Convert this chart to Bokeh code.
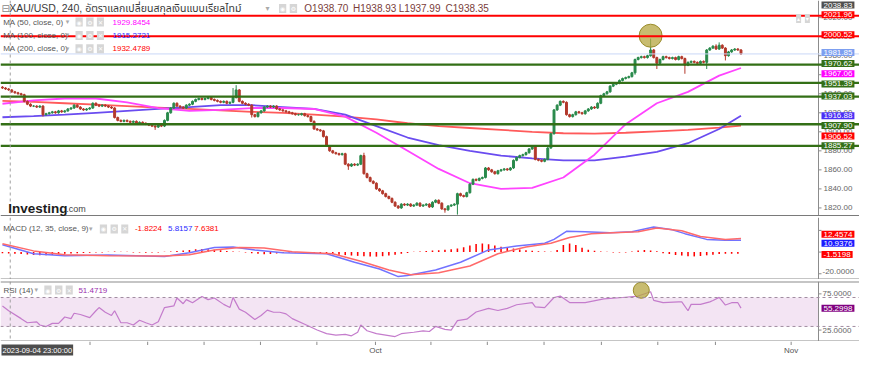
from bokeh.plotting import figure
from bokeh.models import Range1d, Label, Span, BoxAnnotation
from bokeh.layouts import column
from bokeh.embed import file_html
from bokeh.resources import INLINE

# ---------------- data ----------------
closes = [
    1946, 1945, 1944, 1942, 1941, 1940, 1939, 1932, 1929, 1927,
    1927, 1926, 1927, 1918, 1919, 1920, 1921, 1920, 1922, 1921,
    1922, 1924, 1925, 1928, 1926, 1924, 1923, 1924, 1925, 1930,
    1928, 1927, 1928, 1927, 1926, 1925, 1915, 1912, 1911, 1912,
    1911, 1910, 1911, 1909, 1910, 1909, 1908, 1907, 1906, 1905,
    1908, 1906, 1912, 1920, 1925, 1930, 1927, 1926, 1925, 1928,
    1929, 1932, 1934, 1935, 1934, 1935, 1936, 1934, 1933, 1932,
    1931, 1932, 1930, 1931, 1936, 1944, 1932, 1930, 1929, 1928,
    1918, 1916, 1920, 1922, 1926, 1927, 1926, 1927, 1924, 1923,
    1922, 1921, 1920, 1919, 1918, 1918, 1919, 1917, 1916, 1911,
    1903, 1902, 1901, 1895, 1885, 1880, 1878, 1877, 1876, 1877,
    1866, 1864, 1866, 1865, 1866, 1875, 1856, 1852, 1848, 1846,
    1840, 1838, 1835, 1832, 1830, 1826, 1822, 1820, 1824, 1823,
    1824, 1822, 1823, 1825, 1822, 1823, 1824, 1821, 1826, 1828,
    1825, 1819, 1818, 1822, 1823, 1824, 1835, 1833, 1832, 1836,
    1845, 1850, 1849, 1851, 1852, 1862, 1860, 1858, 1856, 1859,
    1860, 1861, 1860, 1862, 1870, 1873, 1875, 1876, 1878, 1882,
    1884, 1871, 1870, 1869, 1871, 1883, 1898, 1923, 1928, 1932,
    1931, 1918, 1916, 1918, 1921, 1920, 1919, 1922, 1924, 1926,
    1925, 1930, 1938, 1940, 1942, 1948, 1950, 1951, 1954, 1956,
    1957, 1958, 1962, 1976, 1978, 1979, 1978, 1980, 1986, 1978,
    1972, 1976, 1979, 1978, 1977, 1978, 1976, 1979, 1977, 1970,
    1973, 1974, 1973, 1972, 1974, 1973, 1986, 1988, 1990, 1987,
    1991, 1988, 1980, 1984, 1986, 1987, 1986, 1981.85,
]
first_open = 1947
wick_high = {74: 1946, 75: 1949, 116: 1878, 146: 1836, 177: 1924,
             208: 1998, 229: 1992, 230: 1994}
wick_low = {13: 1916, 49: 1902, 80: 1915, 111: 1860, 142: 1815, 146: 1813,
            203: 1960, 210: 1966, 219: 1961, 226: 1966, 232: 1975}

ma_idx = [0, 10, 20, 30, 40, 50, 60, 70, 80, 90, 100, 110, 120, 130, 140,
          150, 160, 170, 180, 190, 200, 210, 220, 230, 237]
ma50 = [1929.5, 1933, 1935, 1935, 1931, 1925, 1922, 1923, 1925, 1925, 1924,
        1916, 1899, 1880, 1861, 1846, 1840, 1841, 1852, 1876, 1908, 1930,
        1942, 1959, 1967.06]
ma100 = [1915.3, 1916.5, 1918, 1920, 1922, 1924, 1926, 1928, 1928, 1926,
         1924, 1918, 1906, 1894, 1886, 1880, 1875, 1872, 1870, 1870, 1874,
         1879, 1888, 1903, 1916.88]
ma200 = [1932.5, 1931.5, 1930, 1928.5, 1927, 1925.5, 1924, 1922.5, 1921,
         1920, 1918, 1916, 1913, 1909, 1906, 1904, 1902, 1900, 1898.5, 1898,
         1899, 1900.5, 1902, 1904.5, 1906.52]

macd_idx = [0, 10, 20, 34, 52, 60, 68, 74, 81, 90, 104, 113, 121, 127, 130,
            139, 147, 156, 165, 174, 177, 181, 187, 195, 202, 209, 215, 219,
            226, 232, 237]
macd_vals = [6.7, -1.5, -3.3, -2.8, -4.1, -0.6, 4.2, 4.7, 2.0, -0.6, -1.5,
             -9.4, -15.6, -22.6, -21.7, -16.5, -9.4, 2.0, 5.5, 8.2, 11.7,
             19.2, 18.8, 17.9, 18.8, 23.2, 20.5, 17.0, 11.7, 10.8, 10.94]
signal_idx = [0, 10, 20, 34, 52, 60, 68, 76, 84, 93, 106, 115, 124, 131,
              140, 150, 159, 168, 176, 182, 189, 196, 204, 210, 218, 224,
              232, 237]
signal_vals = [7.7, 1.1, -2.4, -3.3, -3.7, -2.4, 2.0, 4.2, 3.8, 0.3, -1.5,
               -8.5, -16.5, -20.9, -19.1, -12.9, -1.5, 4.7, 8.2, 13.5, 17.0,
               17.9, 18.8, 22.3, 19.6, 14.3, 11.7, 12.46]
hist_idx = list(range(0, 237, 2))
hist_vals = [
    -1.0, -1.2, -1.5, -1.8, -2.2, -2.8, -3.0, -3.0, -2.6, -2.0,
    -1.5, -1.2, -1.0, -0.8, -0.6, -0.4, -0.3, 0.3, 0.5, 0.4,
    0.3, -0.3, -0.5, -0.6, -0.5, -0.4, 0.3, 0.6, 1.0, 1.5,
    2.0, 2.5, 2.8, 2.6, 2.2, 1.6, 1.0, 0.5, 0.3, -0.3,
    -1.0, -1.6, -2.0, -1.8, -1.4, -0.8, -0.5, -0.4, -0.5, -0.8,
    -1.0, -1.3, -1.7, -2.0, -2.4, -2.8, -3.2, -3.5, -3.8, -4.0,
    -4.2, -3.8, -3.2, -2.5, -1.6, -0.8, 0.2, 0.6, 1.0, 1.4,
    1.8, 2.2, 2.6, 3.2, 4.5, 6.0, 7.5, 8.0, 7.2, 6.0,
    5.0, 4.0, 3.2, 2.4, 1.8, 1.2, 0.8, 0.5, 0.4, 2.0,
    6.5, 8.0, 6.5, 4.0, 2.2, 1.2, 0.6, 0.3, -0.3, -0.5,
    -0.4, 0.5, 1.5, 2.0, 1.5, 0.8, -1.0, -1.8, -2.6, -3.2,
    -3.8, -4.0, -3.6, -3.0, -2.4, -1.8, -1.5, -1.5, -1.5,
]

rsi_idx = [0, 2, 6, 8, 11, 12, 14, 16, 18, 19, 20, 22, 23, 25, 28, 30, 31,
           33, 35, 36, 38, 40, 42, 44, 46, 48, 50, 52, 55, 56, 58, 59, 61,
           64, 66, 68, 71, 73, 74, 76, 78, 81, 83, 85, 87, 89, 91, 93, 97,
           101, 104, 107, 110, 112, 114, 115, 117, 120, 123, 126, 128, 132,
           135, 137, 139, 142, 144, 146, 149, 152, 156, 159, 162, 165, 170,
           171, 174, 177, 179, 182, 187, 193, 199, 204, 208, 209, 212, 217,
           218, 220, 221, 224, 227, 228, 230, 232, 234, 236, 237]
rsi_vals = [58.3, 51.7, 40.8, 35.1, 36.4, 32, 29.8, 34.2, 34.2, 38.6, 43,
            40.8, 48.2, 46.5, 42.1, 51.7, 56.1, 49.6, 45.2, 51.7, 35.1, 35.1,
            32, 38.6, 35.1, 32, 36.4, 56.1, 58.3, 69.3, 61.4, 67.1, 62.8,
            71.5, 67.1, 69.3, 60.5, 56.1, 70.2, 53.9, 49.6, 39.5, 45.2, 52.6,
            49.6, 49.6, 47.4, 40.8, 33, 25, 20, 18, 19, 17, 22, 32, 24, 20,
            18, 16, 20, 22, 24, 23, 30, 26, 25, 38, 40, 50, 55, 52, 55, 60,
            63, 57, 56, 70, 72, 63, 63, 68, 70, 72, 78, 66, 63, 64, 64, 51.7,
            60.5, 60.5, 64, 65.8, 70.2, 59.6, 62.8, 62.8, 55.3]

red_levels = [2021.96, 2000.52]
green_levels = [1970.62, 1951.39, 1937.03, 1907.90, 1885.27]
last_price = 1981.85
top_price = 2038.83
ma_last = {"ma50": 1967.06, "ma100": 1916.88, "ma200": 1906.52}
macd_last = {"signal": 12.4574, "macd": 10.9376, "hist": -1.5198}
rsi_last = 55.2998
rsi_bands = [30, 70]
price_ticks = [1820, 1840, 1860, 1880, 1900, 1920, 1940, 1960, 1980, 2000, 2020]
macd_ticks = [-20, 0, 20]
macd_tick_labels = ["-20.0000"]
rsi_ticks = [25, 75]
x_ticks = [28.1, 46.6, 64.7, 82.8, 100.9, 119.7, 137.5, 155.6, 173.8, 192.2,
           210.3, 228.8, 253.1]
x_tick_labels = ["", "", "", "", "", "Oct", "", "", "", "", "", "", "Nov"]
crosshair_bar = 2.5
crosshair_text = "2023-09-04 23:00:00"
highlight_main = (208, 2001)
highlight_rsi = (205, 80)

title_text = "XAU/USD, 240, อัตราแลกเปลี่ยนสกุลเงินแบบเรียลไทม์"
ohlc_texts = ["O1938.70", "H1938.93", "L1937.99", "C1938.35"]
ma_rows = [("MA (50, close, 0)", "1929.8454", "#ff00ff"),
           ("MA (100, close, 0)", "1915.2721", "#2a2aff"),
           ("MA (200, close, 0)", "1932.4789", "#ff0000")]
macd_head = "MACD (12, 35, close, 9)"
macd_head_vals = [("-1.8224", "#ff0000"), ("5.8157", "#2a2aff"), ("7.6381", "#ff0000")]
rsi_head = "RSI (14)"
rsi_head_val = "51.4719"

# ---------------- derived candles ----------------
N = len(closes)
idx = list(range(N))
opens = [first_open] + closes[:-1]
highs = [wick_high.get(i, max(o, c) + 1) for i, (o, c) in enumerate(zip(opens, closes))]
lows = [wick_low.get(i, min(o, c) - 1) for i, (o, c) in enumerate(zip(opens, closes))]
UP, DOWN = "#2a8a4c", "#b3392c"
colors = [UP if c >= o else DOWN for o, c in zip(opens, closes)]
tops = [max(o, c) for o, c in zip(opens, closes)]
bots = [min(o, c) for o, c in zip(opens, closes)]

# ---------------- layout ----------------
W = 859
FW = 818                   # width of the chart area; the price scale takes the rest
SX = FW / 840.0            # horizontal scale vs. reference
PXB = FW / 262.5           # pixels per bar
X0 = -0.625
XB = 261.875               # right border of the chart area
XE = X0 + W / PXB
xr = Range1d(X0, XE)
TICK = 3 / PXB
FONT = "Liberation Sans"
ICON = "DejaVu Sans"
GRID = "#8c8c8c"


def make_fig(h, yr, top=0):
    p = figure(width=W, height=h, x_range=xr, y_range=yr, output_backend="svg",
               toolbar_location=None, tools="", y_axis_location=None,
               x_axis_location=None, min_border_left=0, min_border_right=0,
               min_border_top=top, min_border_bottom=0)
    p.grid.visible = False
    p.outline_line_color = None
    p.background_fill_color = "white"
    p.border_fill_color = "white"
    p.add_layout(Span(location=XB, dimension="height", line_color=GRID, line_width=1))
    return p


def txt(p, ax, ay, dx, dy, text, size, color, font=FONT, bold=False,
        baseline="middle", bg=None, pad=0, align="left"):
    p.add_layout(Label(x=ax, y=ay, x_offset=dx, y_offset=dy, text=text,
                       text_font_size=f"{size}px", text_color=color,
                       text_font=font, text_font_style="bold" if bold else "normal",
                       text_align=align, text_baseline=baseline,
                       background_fill_color=bg, padding=pad))


def tag(p, y, text, bg, dy=0, color="white", baseline="middle"):
    txt(p, XB, y, 3, dy, text, 8, color, bg=bg, pad=(2, 1), baseline=baseline)


def icons(p, ax, ay, xs, dy, chars=("◉", "⚙", "✕")):
    for x, ch in zip(xs, chars):
        txt(p, ax, ay, x * SX, dy, ch, 6, "white", font=ICON, bg="#d6d6d6", pad=1)


def yticks(p, ticks):
    p.segment(x0=[XB] * len(ticks), y0=ticks, x1=[XB + TICK] * len(ticks), y1=ticks,
              line_color=GRID, line_width=1)


# ---- main price panel ----
YB, YT = 1811, 2038
p1 = make_fig(216, Range1d(YB, YT))
MY = 216 / 227.0
yticks(p1, price_ticks)

p1.line(ma_idx, ma200, line_color="#ff5a5a", line_width=1.8)
p1.line(ma_idx, ma100, line_color="#6a4cf0", line_width=1.8)
p1.line(ma_idx, ma50, line_color="#ff44ff", line_width=1.8)
p1.segment(x0=idx, y0=lows, x1=idx, y1=highs, line_color=colors, line_width=1)
p1.vbar(x=idx, width=0.62, top=tops, bottom=bots, fill_color=colors, line_color=colors, line_width=1)

p1.add_layout(Span(location=last_price, dimension="width", line_color="#c9d7f7", line_width=1))
for v in red_levels:
    p1.add_layout(Span(location=v, dimension="width", line_color="#ff0000", line_width=2))
for v in green_levels:
    p1.add_layout(Span(location=v, dimension="width", line_color="#336f16", line_width=2.4))
p1.add_layout(Span(location=crosshair_bar, dimension="height", line_color="#a0a0a0",
                   line_width=1, line_dash="3 3"))
p1.add_layout(Span(location=YB, dimension="width", line_color="#7a7a7a", line_width=3))
p1.scatter([highlight_main[0]], [highlight_main[1]], size=23, fill_color="#b5a640",
           fill_alpha=0.75, line_color="#9a8c2a", line_width=1)

# header rows
txt(p1, X0, YT, 1 * SX, -8.3 * MY, "⊟", 10, "#888888", font=ICON)
txt(p1, X0, YT, 9 * SX, -8.3 * MY, title_text, 10.5, "#3a3a3a",
    font="Liberation Sans, Noto Sans Thai, Tahoma, sans-serif")
txt(p1, X0, YT, 272 * SX, -8.3 * MY, "▾", 8, "#aaaaaa", font=ICON)
icons(p1, X0, YT, [286, 297], -8.3 * MY)
for t, x in zip(ohlc_texts, [312, 362, 409, 457]):
    txt(p1, X0, YT, x * SX, -8.3 * MY, t, 10, "#7a3d3a")
for r, (name, val, c) in enumerate(ma_rows):
    yy = -(22.7 + 14.0 * r) * MY
    txt(p1, X0, YT, 2.7 * SX, yy, name, 8, "#555555")
    txt(p1, X0, YT, 67 * SX, yy, "▾", 7, "#aaaaaa", font=ICON)
    icons(p1, X0, YT, [77, 88, 99], yy)
    txt(p1, X0, YT, 115 * SX, yy, val, 8, c)
# small scroll icons at the top right of the chart area
icons(p1, XB, YT, [-23, -14], -19 * MY, chars=("▴", "▾"))

txt(p1, X0, YB, 8 * SX, 8 * MY, "Investing", 13.5, "#1c1c1c", bold=True, baseline="alphabetic")
txt(p1, X0, YB, 67.5 * SX, 8 * MY, ".com", 9, "#444444", baseline="alphabetic")

# right price scale labels
for v in price_ticks:
    txt(p1, XB, v, 5, 0, f"{v:.2f}", 8, "#666666")
tag(p1, YT, f"{top_price:.2f}", "#505050", dy=-1, baseline="top")
for v in red_levels:
    tag(p1, v, f"{v:.2f}", "#ff0000", dy=1 if v > 2010 else 1.5)
tag(p1, last_price, f"{last_price:.2f}", "#7d9ff0", dy=1.5)
green_dy = {1970.62: 1, 1951.39: -1, 1937.03: 0.5, 1907.90: -1.2, 1885.27: 0}
for v in green_levels:
    tag(p1, v, f"{v:.2f}", "#336f16", dy=green_dy[v])
tag(p1, ma_last["ma50"], f"{ma_last['ma50']:.2f}", "#ff00ff", dy=-5.8)
tag(p1, ma_last["ma100"], f"{ma_last['ma100']:.2f}", "#4b30f5")
tag(p1, ma_last["ma200"], f"{ma_last['ma200']:.2f}", "#ff0000", dy=-10.5)

# ---- MACD panel ----
MB, MT = -25.3, 31.9
p2 = make_fig(63, Range1d(MB, MT), top=1)
yticks(p2, macd_ticks)
p2.vbar(x=hist_idx, top=hist_vals, bottom=0, width=0.5, fill_color="#ff0000", line_color=None)
p2.line(macd_idx, macd_vals, line_color="#7272ff", line_width=1.5)
p2.line(signal_idx, signal_vals, line_color="#ff6a6a", line_width=1.5)
p2.add_layout(Span(location=crosshair_bar, dimension="height", line_color="#a0a0a0",
                   line_width=1, line_dash="3 3"))
p2.add_layout(Span(location=MB, dimension="width", line_color=GRID, line_width=2))
MYm = 62 / 65.0
hy = -12 * MYm
txt(p2, X0, MT, 2.7 * SX, hy, macd_head, 8, "#555555")
txt(p2, X0, MT, 91 * SX, hy, "▾", 7, "#aaaaaa", font=ICON)
icons(p2, X0, MT, [102, 113, 124], hy)
for (t, c), x in zip(macd_head_vals, [138, 172, 199]):
    txt(p2, X0, MT, x * SX, hy, t, 8, c)
txt(p2, XB, macd_ticks[0], 4, 1.9, macd_tick_labels[0], 8, "#666666")
tag(p2, macd_last["signal"], f"{macd_last['signal']:.4f}", "#ff0000", dy=4.2)
tag(p2, macd_last["macd"], f"{macd_last['macd']:.4f}", "#1a1aff", dy=-3.1)
tag(p2, macd_last["hist"], f"{macd_last['hist']:.4f}", "#ff0000", dy=-0.7)

# ---- RSI panel ----
RB_, RT = 9.2, 92.1
p3 = make_fig(62, Range1d(RB_, RT), top=2)
yticks(p3, rsi_ticks)
p3.add_layout(BoxAnnotation(bottom=rsi_bands[0], top=rsi_bands[1], right=XB,
                            fill_color="#f3e4f3", fill_alpha=1, line_alpha=0,
                            level="underlay"))
for v in rsi_bands:
    p3.add_layout(Span(location=v, dimension="width", line_color="#a08ca0",
                       line_width=1, line_dash="3 3"))
p3.line(rsi_idx, rsi_vals, line_color="#c47ccc", line_width=1.2)
p3.add_layout(Span(location=crosshair_bar, dimension="height", line_color="#a0a0a0",
                   line_width=1, line_dash="3 3"))
p3.add_layout(Span(location=RT, dimension="width", line_color=GRID, line_width=2))
p3.add_layout(Span(location=RB_, dimension="width", line_color=GRID, line_width=2))
p3.scatter([highlight_rsi[0]], [highlight_rsi[1]], size=16, fill_color="#b5a640",
           fill_alpha=0.75, line_color="#9a8c2a", line_width=1)
RY = 60 / 63.0
hy3 = -9 * RY
txt(p3, X0, RT, 3 * SX, hy3, rsi_head, 8, "#555555")
txt(p3, X0, RT, 35 * SX, hy3, "▾", 7, "#aaaaaa", font=ICON)
icons(p3, X0, RT, [45, 56, 67], hy3)
txt(p3, X0, RT, 80 * SX, hy3, rsi_head_val, 8, "#9b2fae")
for v in rsi_ticks:
    txt(p3, XB, v, 4, 0, f"{v:.4f}", 8, "#666666")
tag(p3, rsi_last, f"{rsi_last:.4f}", "#800080")

# ---- time axis strip ----
p4 = figure(width=W, height=16, x_range=xr, y_range=Range1d(0, 16), output_backend="svg",
            toolbar_location=None, tools="", x_axis_location=None, y_axis_location=None,
            min_border_left=0, min_border_right=0, min_border_top=0, min_border_bottom=0)
p4.grid.visible = False
p4.outline_line_color = None
p4.border_fill_color = "white"
p4.segment(x0=x_ticks, y0=[16] * len(x_ticks), x1=x_ticks, y1=[12.5] * len(x_ticks),
           line_color=GRID, line_width=1)
for t, lab in zip(x_ticks, x_tick_labels):
    if lab:
        txt(p4, t, 16, 0, -9, lab, 8, "#555555", align="center")
txt(p4, X0, 16, 1, -3, crosshair_text, 7.5, "white", bg="#4d4d4d", pad=(1, 1),
    baseline="top")

layout = column(p1, p2, p3, p4, spacing=0)
open("out.html", "w").write(file_html(layout, INLINE))
